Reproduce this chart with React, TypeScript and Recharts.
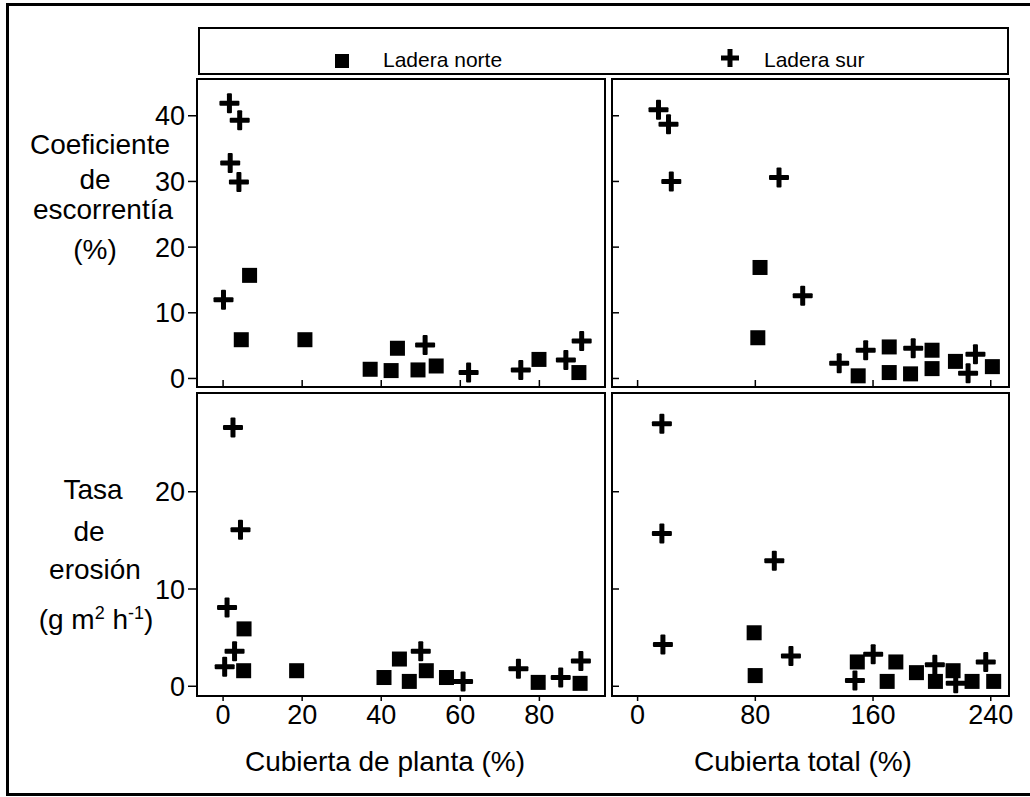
import { ScatterChart, Scatter, XAxis, YAxis } from 'recharts';

const FONT = '"Liberation Sans", Arial, sans-serif';

// Cubierta de planta (%) vs coeficiente de escorrentía (%)
const plantaEscNorteX = [6.7, 4.6, 20.7, 37.2, 42.5, 44.1, 49.3, 53.9, 79.9, 90.0];
const plantaEscNorteY = [15.7, 5.9, 5.9, 1.4, 1.2, 4.6, 1.3, 1.9, 2.9, 0.9];
const plantaEscSurX = [1.6, 4.2, 1.8, 4.0, 0.1, 51.1, 62.1, 75.3, 86.7, 90.7];
const plantaEscSurY = [41.9, 39.3, 32.8, 29.9, 12.0, 5.1, 0.9, 1.3, 2.8, 5.7];

// Cubierta total (%) vs coeficiente de escorrentía (%)
const totalEscNorteX = [83.2, 81.7, 149.9, 171.0, 171.0, 185.5, 200.1, 200.1, 216.0, 241.1];
const totalEscNorteY = [16.9, 6.2, 0.4, 4.8, 0.9, 0.7, 4.3, 1.5, 2.6, 1.8];
const totalEscSurX = [14.2, 21.0, 22.9, 96.1, 112.2, 137.0, 155.0, 187.3, 229.6, 224.6];
const totalEscSurY = [40.9, 38.7, 30.0, 30.6, 12.6, 2.3, 4.3, 4.6, 3.7, 0.8];

// Cubierta de planta (%) vs tasa de erosión
const plantaEroNorteX = [5.3, 5.2, 18.6, 40.7, 44.6, 47.1, 51.4, 56.5, 79.7, 90.3];
const plantaEroNorteY = [5.9, 1.6, 1.6, 0.9, 2.8, 0.5, 1.6, 0.9, 0.4, 0.3];
const plantaEroSurX = [2.5, 4.4, 1.0, 2.9, 0.4, 50.0, 60.7, 74.7, 85.4, 90.5];
const plantaEroSurY = [26.6, 16.1, 8.1, 3.6, 2.0, 3.6, 0.5, 1.8, 0.9, 2.6];

// Cubierta total (%) vs tasa de erosión
const totalEroNorteX = [79.2, 79.9, 149.3, 175.5, 169.6, 189.5, 202.4, 214.4, 227.3, 242.0];
const totalEroNorteY = [5.5, 1.1, 2.5, 2.5, 0.5, 1.4, 0.5, 1.6, 0.5, 0.5];
const totalEroSurX = [16.5, 16.5, 17.2, 92.9, 104.2, 147.7, 160.1, 202.0, 216.2, 236.6];
const totalEroSurY = [27.0, 15.7, 4.3, 12.9, 3.1, 0.6, 3.3, 2.2, 0.3, 2.5];

const plantaTicks = [0, 20, 40, 60, 80];
const totalTicks = [0, 80, 160, 240];
const escTicks = [0, 10, 20, 30, 40];
const eroTicks = [0, 10, 20];

const toPoints = (xs: number[], ys: number[]) => xs.map((x, i) => ({ x, y: ys[i] }));

const Square = (props: any) => {
  const { cx, cy } = props;
  return <rect x={cx - 7.5} y={cy - 7.5} width={15} height={15} fill="#000" />;
};

const Cross = (props: any) => {
  const { cx, cy } = props;
  return (
    <g fill="#000">
      <rect x={cx - 10} y={cy - 2.5} width={20} height={5} rx={1} />
      <rect x={cx - 2.5} y={cy - 10} width={5} height={20} rx={1} />
    </g>
  );
};

// tick vacío: solo se dibuja la marca, sin número
const NoLabel = () => <g />;

type Pt = { x: number; y: number };

type PanelProps = {
  left: number;
  top: number;
  width: number;
  height: number;
  margin: { top: number; right: number; bottom: number; left: number };
  xDomain: [number, number];
  xTicks: number[];
  showX: boolean;
  yDomain: [number, number];
  yTicks: number[];
  showY: boolean;
  norte: Pt[];
  sur: Pt[];
};

function Panel(p: PanelProps) {
  const tickStyle = { fontSize: 27, fill: '#000', fontFamily: FONT };
  return (
    <div style={{ position: 'absolute', left: p.left, top: p.top }}>
      <ScatterChart width={p.width} height={p.height} margin={p.margin}>
        <XAxis
          type="number"
          dataKey="x"
          domain={p.xDomain}
          ticks={p.xTicks}
          allowDataOverflow
          interval={0}
          axisLine={false}
          mirror={!p.showX}
          height={p.showX ? 101 : 2}
          tick={p.showX ? tickStyle : NoLabel}
          tickSize={p.showX ? 5 : 7}
          tickMargin={4}
          tickLine={{ stroke: '#000', strokeWidth: 1.5 }}
        />
        <YAxis
          type="number"
          dataKey="y"
          domain={p.yDomain}
          ticks={p.yTicks}
          allowDataOverflow
          interval={0}
          axisLine={false}
          mirror={!p.showY}
          width={p.showY ? 87 : 2}
          tick={p.showY ? tickStyle : NoLabel}
          tickSize={p.showY ? 9 : 7}
          tickMargin={3}
          tickLine={{ stroke: '#000', strokeWidth: 1.5 }}
        />
        <Scatter name="Ladera norte" data={p.norte} shape={Square} isAnimationActive={false} />
        <Scatter name="Ladera sur" data={p.sur} shape={Cross} isAnimationActive={false} />
      </ScatterChart>
    </div>
  );
}

const frame = (left: number, top: number, right: number, bottom: number): React.CSSProperties => ({
  position: 'absolute',
  left: left - 1,
  top: top - 1,
  width: right - left + 2,
  height: bottom - top + 2,
  border: '2px solid #000',
  boxSizing: 'border-box',
  pointerEvents: 'none',
});

const lineStyle = (top: number, center: number): React.CSSProperties => ({
  position: 'absolute',
  top: top,
  left: center - 100,
  width: 200,
  textAlign: 'center',
  fontSize: 28,
  lineHeight: '28px',
  whiteSpace: 'nowrap',
});

export default function App() {
  return (
    <div
      style={{
        position: 'absolute',
        left: 0,
        top: 0,
        width: 1030,
        height: 797,
        background: '#fff',
        fontFamily: FONT,
        color: '#000',
        overflow: 'hidden',
      }}
    >
      <div
        style={{
          position: 'absolute',
          left: 6,
          top: 3,
          width: 1060,
          height: 793,
          border: '3px solid #000',
          boxSizing: 'border-box',
        }}
      />

      {/* leyenda */}
      <div
        style={{
          position: 'absolute',
          left: 198,
          top: 27,
          width: 811,
          height: 48,
          border: '2px solid #000',
          boxSizing: 'border-box',
          fontSize: 21,
        }}
      >
        <svg style={{ position: 'absolute', left: 332 - 198, top: 51 - 27 }} width={16} height={16}>
          <rect x={1} y={1} width={14} height={14} fill="#000" />
        </svg>
        <span style={{ position: 'absolute', left: 381 - 198, top: 46 - 27, lineHeight: '24px' }}>
          Ladera norte
        </span>
        <svg style={{ position: 'absolute', left: 719 - 198, top: 47 - 27 }} width={18} height={18}>
          <rect x={0} y={6.5} width={18} height={5} fill="#000" />
          <rect x={6.5} y={0} width={5} height={18} fill="#000" />
        </svg>
        <span style={{ position: 'absolute', left: 762 - 198, top: 46 - 27, lineHeight: '24px' }}>
          Ladera sur
        </span>
      </div>

      <Panel
        left={110}
        top={70}
        width={500}
        height={325}
        margin={{ top: 9, right: 5, bottom: 8, left: 0 }}
        xDomain={[-6.6, 96.6]}
        xTicks={plantaTicks}
        showX={false}
        yDomain={[-1.3, 45.6]}
        yTicks={escTicks}
        showY
        norte={toPoints(plantaEscNorteX, plantaEscNorteY)}
        sur={toPoints(plantaEscSurX, plantaEscSurY)}
      />
      <Panel
        left={605}
        top={70}
        width={410}
        height={325}
        margin={{ top: 9, right: 6, bottom: 8, left: 7 }}
        xDomain={[-17.4, 252.4]}
        xTicks={totalTicks}
        showX={false}
        yDomain={[-1.3, 45.6]}
        yTicks={escTicks}
        showY={false}
        norte={toPoints(totalEscNorteX, totalEscNorteY)}
        sur={toPoints(totalEscSurX, totalEscSurY)}
      />
      <Panel
        left={110}
        top={385}
        width={500}
        height={412}
        margin={{ top: 8, right: 5, bottom: 0, left: 0 }}
        xDomain={[-6.6, 96.6]}
        xTicks={plantaTicks}
        showX
        yDomain={[-1.0, 30.15]}
        yTicks={eroTicks}
        showY
        norte={toPoints(plantaEroNorteX, plantaEroNorteY)}
        sur={toPoints(plantaEroSurX, plantaEroSurY)}
      />
      <Panel
        left={605}
        top={385}
        width={410}
        height={412}
        margin={{ top: 8, right: 6, bottom: 0, left: 7 }}
        xDomain={[-17.4, 252.4]}
        xTicks={totalTicks}
        showX
        yDomain={[-1.0, 30.15]}
        yTicks={eroTicks}
        showY={false}
        norte={toPoints(totalEroNorteX, totalEroNorteY)}
        sur={toPoints(totalEroSurX, totalEroSurY)}
      />

      {/* marcos de los paneles */}
      <div style={frame(197, 79, 605, 387)} />
      <div style={frame(612, 79, 1009, 387)} />
      <div style={frame(197, 393, 605, 696)} />
      <div style={frame(612, 393, 1009, 696)} />

      {/* títulos del eje y */}
      <div style={lineStyle(145 - 14, 100)}>Coeficiente</div>
      <div style={lineStyle(180 - 14, 95)}>de</div>
      <div style={lineStyle(210 - 14, 103)}>escorrentía</div>
      <div style={lineStyle(250 - 14, 95)}>(%)</div>

      <div style={lineStyle(490 - 14, 93)}>Tasa</div>
      <div style={lineStyle(532 - 14, 89)}>de</div>
      <div style={lineStyle(570 - 14, 95)}>erosión</div>
      <div style={lineStyle(620 - 14, 96)}>
        (g m<sup style={{ fontSize: 18, lineHeight: 0 }}>2</sup> h<sup style={{ fontSize: 18, lineHeight: 0 }}>-1</sup>)
      </div>

      {/* títulos del eje x */}
      <div style={{ ...lineStyle(748, 385), width: 400, left: 185 }}>Cubierta de planta (%)</div>
      <div style={{ ...lineStyle(748, 803), width: 400, left: 603 }}>Cubierta total (%)</div>
    </div>
  );
}
